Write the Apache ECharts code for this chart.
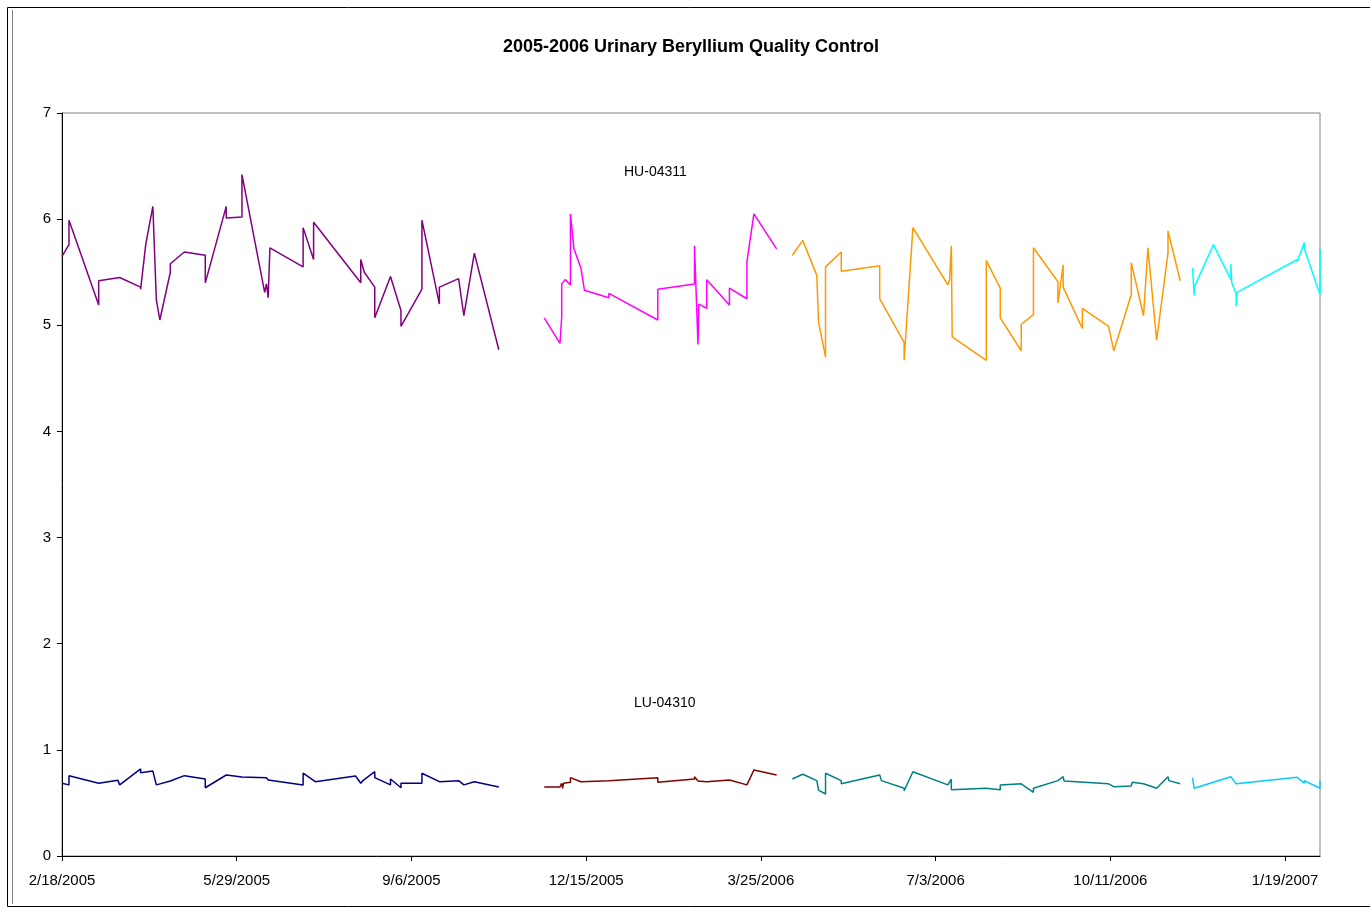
<!DOCTYPE html>
<html>
<head>
<meta charset="utf-8">
<script src="https://cdn.jsdelivr.net/npm/echarts@6/dist/echarts.min.js"></script>
<style>
  html, body { margin: 0; padding: 0; background: #fff; }
  #chart { width: 1370px; height: 909px; }
</style>
</head>
<body>
<div id="chart"></div>
<script>
// x values are days since 2/18/2005
var startDate = Date.UTC(2005, 1, 18);
var tickDays = [0, 100, 200, 300, 400, 500, 600, 700];
var yTicks = [0, 1, 2, 3, 4, 5, 6, 7];

// HU-04311 (high control), one array per lot period
var hu1 = [[0,5.65],[4,5.76],[4,5.99],[21,5.19],[21,5.42],[33,5.45],[45,5.36],[45,5.34],[48,5.77],[52,6.12],[54,5.24],[56,5.05],[62,5.50],[62,5.58],[70,5.69],[82,5.66],[82,5.40],[94,6.12],[94,6.01],[103,6.02],[103,6.42],[116,5.31],[117,5.39],[118,5.26],[119,5.73],[138,5.55],[138,5.92],[144,5.62],[144,5.97],[171,5.40],[171,5.62],[173,5.50],[179,5.36],[179,5.07],[188,5.46],[194,5.14],[194,4.99],[206,5.34],[206,5.99],[216,5.20],[216,5.36],[227,5.44],[230,5.09],[236,5.68],[250,4.77]];
var hu2 = [[276,5.07],[285,4.83],[286,5.08],[286,5.39],[288,5.43],[291,5.38],[291,6.05],[293,5.72],[297,5.54],[299,5.33],[313,5.26],[313,5.30],[341,5.05],[341,5.34],[362,5.39],[362,5.75],[364,4.82],[364.5,5.20],[369,5.16],[369,5.43],[382,5.19],[382,5.35],[392,5.25],[392,5.60],[396,6.05],[409,5.72]];
var hu3 = [[418,5.66],[424,5.80],[432,5.47],[433,5.03],[437,4.70],[437,5.55],[446,5.69],[446,5.51],[468,5.56],[468,5.25],[469,5.22],[482,4.84],[482,4.67],[487,5.92],[507,5.38],[508,5.43],[509,5.43],[509,5.75],[509.5,4.89],[529,4.67],[529,5.61],[537,5.35],[537,5.07],[549,4.76],[549,5.01],[556,5.10],[556,5.73],[570,5.41],[570,5.21],[573,5.57],[573,5.36],[584,4.97],[584,5.16],[599,4.99],[602,4.76],[612,5.29],[612,5.59],[619,5.09],[621.5,5.73],[626.5,4.86],[633,5.68],[633,5.89],[640,5.42]];
var hu4 = [[647,5.54],[648,5.28],[648,5.36],[659,5.76],[669,5.43],[669,5.58],[669.5,5.40],[672,5.30],[672,5.18],[672.5,5.31],[707,5.62],[707,5.60],[711,5.78],[711,5.72],[720,5.29],[720,5.72]];

// LU-04310 (low control)
var lu1 = [[0,0.685],[4,0.67],[4,0.757],[21,0.685],[32,0.713],[33,0.67],[45,0.82],[45,0.785],[46,0.80],[52,0.80],[54,0.67],[62,0.707],[62,0.695],[70,0.757],[82,0.725],[82,0.643],[94,0.763],[95,0.75],[103,0.745],[103,0.754],[117,0.738],[118,0.716],[138,0.67],[138,0.78],[145,0.70],[168,0.754],[171,0.685],[172,0.707],[179,0.794],[179,0.738],[188,0.67],[188,0.725],[194,0.643],[194,0.685],[206,0.685],[206,0.78],[216,0.70],[227,0.71],[230,0.67],[236,0.70],[250,0.65]];
var lu2 = [[276,0.65],[285,0.65],[286,0.685],[286.5,0.638],[287,0.685],[291,0.694],[291,0.738],[297,0.70],[313,0.71],[313,0.725],[341,0.738],[341,0.694],[362,0.725],[362,0.747],[364,0.707],[369,0.70],[369,0.716],[382,0.716],[383,0.723],[392,0.67],[396,0.81],[409,0.763]];
var lu3 = [[418,0.725],[424,0.77],[432,0.71],[433,0.62],[437,0.584],[437,0.78],[446,0.71],[446,0.68],[468,0.763],[469,0.71],[482,0.638],[482,0.615],[487,0.794],[507,0.67],[509,0.723],[509,0.625],[529,0.638],[529,0.653],[537,0.625],[537,0.67],[549,0.68],[556,0.60],[556,0.638],[570,0.71],[573,0.747],[573.5,0.707],[599,0.68],[602,0.653],[612,0.66],[612.5,0.694],[619,0.68],[626.5,0.638],[633,0.747],[633.5,0.71],[640,0.68]];
var lu4 = [[647,0.738],[648,0.638],[669,0.747],[672,0.68],[707,0.741],[711,0.685],[711,0.71],[720,0.638],[720,0.71]];

var seriesDefs = [
    { name: 'HU-04311', data: hu1, color: '#800080' },
    { name: 'HU-04311', data: hu2, color: '#FF00FF' },
    { name: 'HU-04311', data: hu3, color: '#FF9900' },
    { name: 'HU-04311', data: hu4, color: '#00FFFF' },
    { name: 'LU-04310', data: lu1, color: '#000080' },
    { name: 'LU-04310', data: lu2, color: '#800000' },
    { name: 'LU-04310', data: lu3, color: '#008080' },
    { name: 'LU-04310', data: lu4, color: '#00CCFF' }
];

function dayLabel(d) {
    var dt = new Date(startDate + d * 86400000);
    return (dt.getUTCMonth() + 1) + '/' + dt.getUTCDate() + '/' + dt.getUTCFullYear();
}

var myChart = echarts.init(document.getElementById('chart'));

var option = {
    backgroundColor: '#fff',
    animation: false,
    textStyle: { fontFamily: 'Liberation Sans, Arial, sans-serif' },
    title: {
        text: '2005-2006 Urinary Beryllium Quality Control',
        left: 686,
        top: 33,
        textAlign: 'center',
        textStyle: { fontSize: 18, fontWeight: 'bold', color: '#000', fontFamily: 'Liberation Sans, Arial, sans-serif' }
    },
    graphic: [
        { type: 'rect', shape: { x: 7.5, y: 7.5, width: 1400, height: 899 }, style: { fill: null, stroke: '#000', lineWidth: 1 }, z: -1 },
        { type: 'line', shape: { x1: 12.5, y1: 10, x2: 12.5, y2: 904 }, style: { stroke: '#808080', lineWidth: 1 } },
        { type: 'text', left: 624, top: 165, style: { text: 'HU-04311', fontSize: 14, fill: '#000', fontFamily: 'Liberation Sans, Arial, sans-serif' } },
        { type: 'text', left: 634, top: 696, style: { text: 'LU-04310', fontSize: 14, fill: '#000', fontFamily: 'Liberation Sans, Arial, sans-serif' } }
    ],
    grid: {
        left: 62,
        right: 50,
        top: 113,
        bottom: 53,
        show: true,
        borderColor: '#808080',
        borderWidth: 1,
        backgroundColor: '#fff'
    },
    xAxis: {
        type: 'value',
        min: 0,
        max: 720,
        interval: 100,
        splitLine: { show: false },
        axisLine: { show: true, onZero: false, lineStyle: { color: '#000', width: 1 } },
        axisTick: { show: true, inside: false, length: 5, lineStyle: { color: '#000' }, customValues: tickDays },
        axisLabel: {
            show: true,
            margin: 17,
            fontSize: 15,
            color: '#000',
            customValues: tickDays,
            formatter: function (v) { return dayLabel(v); }
        }
    },
    yAxis: {
        type: 'value',
        min: 0,
        max: 7,
        interval: 1,
        splitLine: { show: false },
        axisLine: { show: true, lineStyle: { color: '#000', width: 1 } },
        axisTick: { show: true, inside: false, length: 5, lineStyle: { color: '#000' } },
        axisLabel: { show: true, margin: 11, fontSize: 15, color: '#000', customValues: yTicks }
    },
    series: seriesDefs.map(function (s) {
        return {
            name: s.name,
            type: 'line',
            data: s.data,
            showSymbol: false,
            symbol: 'none',
            smooth: false,
            clip: false,
            lineStyle: { color: s.color, width: 1.5 },
            itemStyle: { color: s.color }
        };
    })
};

myChart.setOption(option, true);
</script>
</body>
</html>
